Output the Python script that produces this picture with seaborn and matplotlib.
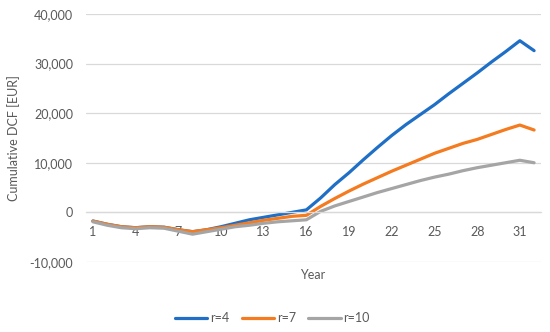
import pandas as pd
import matplotlib
matplotlib.use("Agg")
import matplotlib.pyplot as plt
import seaborn as sns
from matplotlib.ticker import FuncFormatter

years = list(range(1, 33))
r4 = [-1750, -2400, -2900, -3100, -2900, -3000, -3500, -3900, -3500, -2900,
      -2200, -1500, -1000, -500, 0, 500, 2900, 5600, 8000, 10600,
      13100, 15500, 17700, 19700, 21700, 23900, 26000, 28100, 30300, 32400,
      34600, 32600]
r7 = [-1750, -2400, -2900, -3100, -2900, -3000, -3500, -3900, -3500, -3100,
      -2600, -2100, -1600, -1200, -800, -600, 1200, 2800, 4300, 5700,
      7000, 8300, 9500, 10700, 11900, 12900, 13900, 14700, 15700, 16700,
      17600, 16600]
r10 = [-1900, -2600, -3100, -3300, -3100, -3200, -3800, -4400, -3900, -3400,
       -2900, -2600, -2200, -1900, -1700, -1500, 200, 1300, 2200, 3100,
       4000, 4800, 5600, 6400, 7100, 7700, 8400, 9000, 9500, 10000,
       10500, 10000]
series_names = ["r=4", "r=7", "r=10"]

df = pd.DataFrame({"year": years, "r=4": r4, "r=7": r7, "r=10": r10})
long = df.melt(id_vars="year", var_name="series", value_name="dcf")

sns.set_theme(style="white")
plt.rcParams["font.family"] = ["Lato", "DejaVu Sans"]

txt = "#595959"
grid = "#D9D9D9"
colors = ["#1F6FC6", "#F47B20", "#A5A5A5"]

fig = plt.figure(figsize=(5.5, 3.32), dpi=100)
ax = fig.add_axes([0.156, 0.211, 0.828, 0.747])

sns.lineplot(data=long, x="year", y="dcf", hue="series", hue_order=series_names,
             palette=colors, linewidth=2.3, ax=ax, legend=True)

ax.set_xlim(0.5, 32.5)
ax.set_ylim(-10000, 40000)
ax.set_yticks(range(-10000, 40001, 10000))
ax.yaxis.set_major_formatter(FuncFormatter(lambda v, p: f"{v:,.0f}"))
ax.set_xticks(years[::3])
ax.grid(axis="y", color=grid, linewidth=0.9)
ax.set_axisbelow(True)

for s in ["top", "right", "left"]:
    ax.spines[s].set_visible(False)
ax.spines["bottom"].set_position(("data", 0))
ax.spines["bottom"].set_color(grid)
ax.spines["bottom"].set_linewidth(0.9)
ax.tick_params(axis="both", length=0, labelsize=9, colors=txt)
ax.tick_params(axis="x", pad=10)
ax.tick_params(axis="y", pad=9)

ax.set_ylabel("Cumulative DCF [EUR]", fontsize=9, color=txt, labelpad=7)
ax.set_xlabel("")
fig.text(0.569, 0.172, "Year", ha="center", va="center", fontsize=9, color=txt)

handles, labels = ax.get_legend_handles_labels()
ax.get_legend().remove()
fig.legend(handles, labels, loc="center", bbox_to_anchor=(0.495, 0.042), ncol=3,
           frameon=False, fontsize=9, labelcolor=txt, handlelength=2.6,
           handletextpad=0.2, columnspacing=1.0)

fig.savefig("out.png", dpi=100)
